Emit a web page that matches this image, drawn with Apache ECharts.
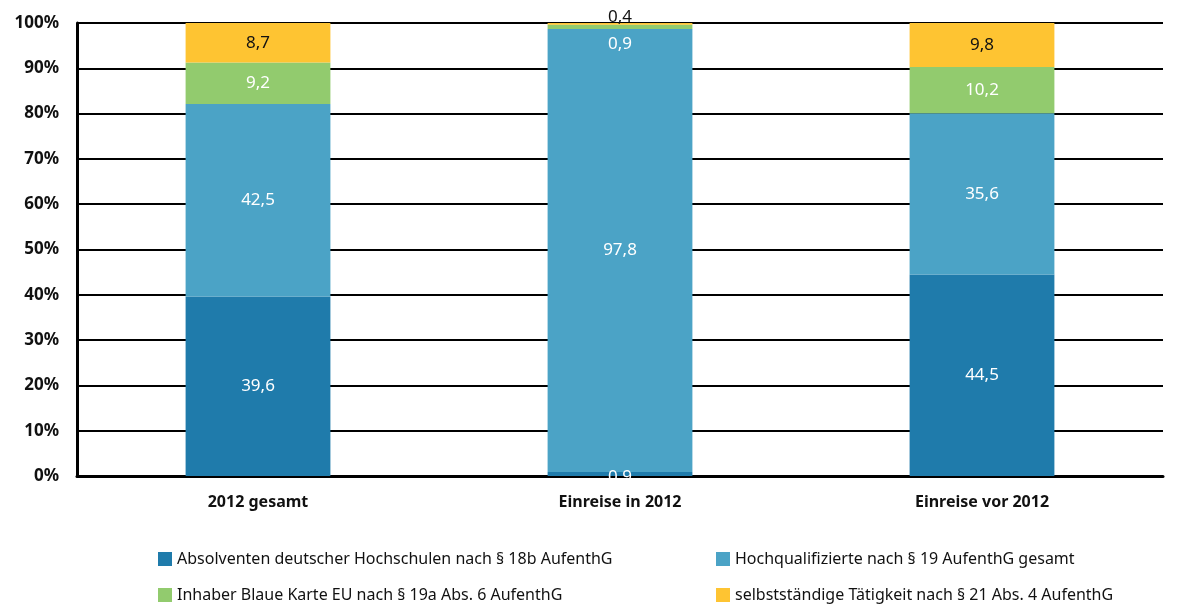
<!DOCTYPE html>
<html><head><meta charset="utf-8">
<script src="https://cdn.jsdelivr.net/npm/echarts@6/dist/echarts.min.js"></script>
<style>html,body{margin:0;padding:0;background:#fff}#c{width:1179px;height:610px}</style>
</head><body><div id="c"></div>
<script>
const categories = ['2012 gesamt', 'Einreise in 2012', 'Einreise vor 2012'];
const seriesNames = [
  'Absolventen deutscher Hochschulen nach § 18b AufenthG',
  'Hochqualifizierte nach § 19 AufenthG gesamt',
  'Inhaber Blaue Karte EU nach § 19a Abs. 6 AufenthG',
  'selbstständige Tätigkeit nach § 21 Abs. 4 AufenthG'
];
const absolventen = [39.6, 0.9, 44.5];
const hochqualifizierte = [42.5, 97.8, 35.6];
const blaueKarte = [9.2, 0.9, 10.2];
const selbststaendig = [8.7, 0.4, 9.8];
const yTicks = [0, 10, 20, 30, 40, 50, 60, 70, 80, 90, 100];

const colors = ['#1f7bab', '#4ba3c6', '#92cb6e', '#fec432'];
const FONT = '"Noto Sans", "Open Sans", sans-serif';
const fmt = p => String(p.value).replace('.', ',');

function makeData(arr, overrides) {
  return arr.map((v, i) => overrides && overrides[i] ? Object.assign({value: v}, overrides[i]) : v);
}

const allValues = [absolventen, hochqualifizierte, blaueKarte, selbststaendig];
const labelColors = ['#fff', '#fff', '#fff', '#111'];
const overrides = [
  {1: {label: {offset: [0, 3]}}},
  null,
  {1: {label: {offset: [0, 17]}}},
  {1: {label: {position: 'top', distance: -3}}}
];

const series = allValues.map((arr, k) => ({
  name: seriesNames[k],
  type: 'bar',
  stack: 'total',
  barWidth: '40%',
  itemStyle: {color: colors[k]},
  label: {show: true, position: 'inside', color: labelColors[k], fontFamily: FONT, fontSize: 17, formatter: fmt},
  data: makeData(arr, overrides[k])
}));

const legendCommon = {orient: 'vertical', top: 546, height: 64, itemWidth: 14, itemHeight: 14, itemGap: 20,
  icon: 'rect', textStyle: {fontSize: 16, color: '#111', fontFamily: FONT}};

const chart = echarts.init(document.getElementById('c'));
chart.setOption({
  animation: false,
  grid: {left: 77, right: 16, top: 23, bottom: 134},
  xAxis: {
    type: 'category', data: categories,
    axisLine: {lineStyle: {color: '#000', width: 3}},
    axisTick: {show: false},
    axisLabel: {color: '#111', fontWeight: 'bold', fontSize: 16, fontFamily: FONT, margin: 18}
  },
  yAxis: {
    type: 'value', min: yTicks[0], max: yTicks[yTicks.length - 1], interval: 10,
    axisLine: {show: true, lineStyle: {color: '#000', width: 3}},
    axisTick: {show: false},
    splitLine: {lineStyle: {color: '#000', width: 2}},
    axisLabel: {color: '#111', fontWeight: 'bold', fontSize: 17, fontFamily: FONT, formatter: '{value}%', margin: 18}
  },
  legend: [
    Object.assign({data: [seriesNames[0], seriesNames[2]], left: 153}, legendCommon),
    Object.assign({data: [seriesNames[1], seriesNames[3]], left: 711}, legendCommon)
  ],
  series: series
});
</script></body></html>
